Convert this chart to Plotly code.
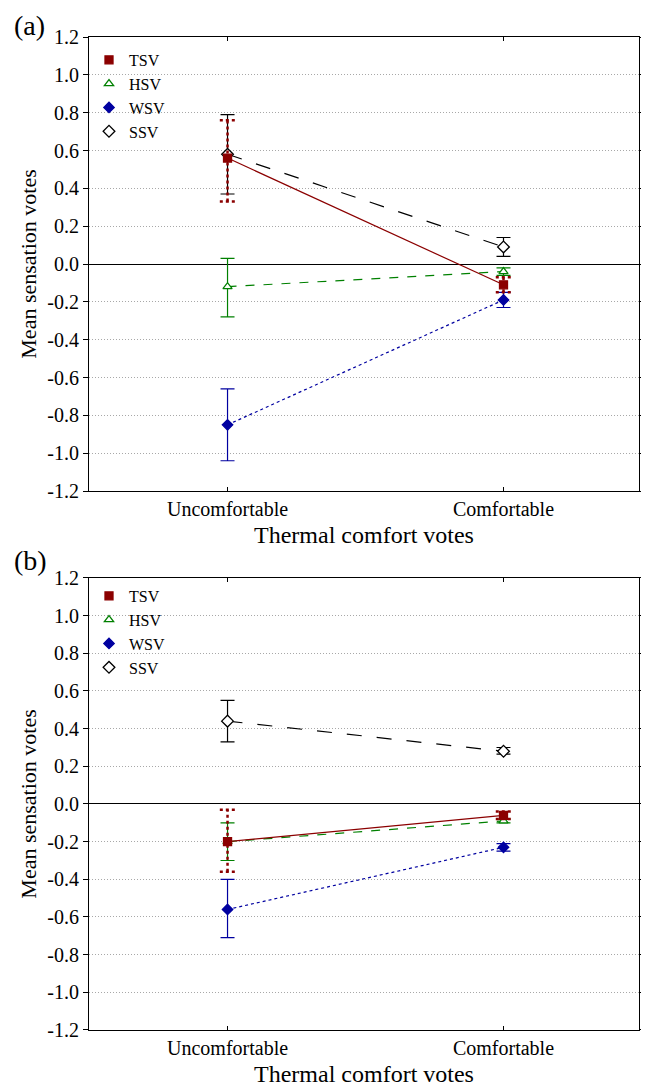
import plotly.graph_objects as go
from plotly.subplots import make_subplots

categories = ["Uncomfortable", "Comfortable"]
x_pos = [0, 1]
series = ["TSV", "HSV", "WSV", "SSV"]

# Panel (a): mean, lower, upper
a_mean = {"TSV": [0.56, -0.11], "HSV": [-0.12, -0.04], "WSV": [-0.85, -0.19], "SSV": [0.58, 0.09]}
a_lo = {"TSV": [0.33, -0.15], "HSV": [-0.28, -0.06], "WSV": [-1.04, -0.23], "SSV": [0.37, 0.04]}
a_hi = {"TSV": [0.76, -0.07], "HSV": [0.03, -0.02], "WSV": [-0.66, -0.15], "SSV": [0.79, 0.14]}

# Panel (b)
b_mean = {"TSV": [-0.20, -0.06], "HSV": [-0.20, -0.09], "WSV": [-0.56, -0.23], "SSV": [0.44, 0.28]}
b_lo = {"TSV": [-0.36, -0.08], "HSV": [-0.30, -0.10], "WSV": [-0.71, -0.25], "SSV": [0.33, 0.265]}
b_hi = {"TSV": [-0.03, -0.04], "HSV": [-0.10, -0.08], "WSV": [-0.40, -0.21], "SSV": [0.55, 0.30]}

y_ticks = [-1.2, -1.0, -0.8, -0.6, -0.4, -0.2, 0.0, 0.2, 0.4, 0.6, 0.8, 1.0, 1.2]

styles = {
    "TSV": dict(color="#8B0000", dash="solid", symbol="square", fill="#8B0000", msize=8),
    "HSV": dict(color="#008000", dash="dash", symbol="triangle-up", fill="white", msize=8),
    "WSV": dict(color="#0000A0", dash="dot", symbol="diamond", fill="#0000A0", msize=8),
    "SSV": dict(color="#000000", dash="longdash", symbol="diamond", fill="white", msize=9),
}

FONT = "Liberation Serif"

fig = make_subplots(rows=2, cols=1, vertical_spacing=0.0)

def add_panel(row, mean, lo, hi, legend_name):
    for s in ["SSV", "WSV", "HSV", "TSV"]:
        st = styles[s]
        m, l, h = mean[s], lo[s], hi[s]
        if s == "TSV":
            ex, ey = [], []
            d = 0.028
            for xi, li, hi_ in zip(x_pos, l, h):
                ex += [xi, xi, None, xi - d, xi + d, None, xi - d, xi + d, None]
                ey += [li, hi_, None, hi_, hi_, None, li, li, None]
            fig.add_trace(go.Scatter(x=ex, y=ey, mode="lines", showlegend=False,
                                     line=dict(color=st["color"], width=2.5, dash="dot"),
                                     hoverinfo="skip"), row=row, col=1)
            err = None
        else:
            err = dict(type="data", symmetric=False,
                       array=[hh - mm for hh, mm in zip(h, m)],
                       arrayminus=[mm - ll for mm, ll in zip(m, l)],
                       color=st["color"], thickness=1.2, width=7)
        fig.add_trace(go.Scatter(
            x=x_pos, y=m, mode="lines+markers", name=s, showlegend=False,
            line=dict(color=st["color"], width=1.2, dash=st["dash"]),
            marker=dict(symbol=st["symbol"], size=st["msize"], color=st["fill"],
                        line=dict(color=st["color"], width=1.3)),
            error_y=err,
        ), row=row, col=1)
    # legend-only entries (marker icons)
    for rank, s in enumerate(series):
        st = styles[s]
        fig.add_trace(go.Scatter(
            x=[None], y=[None], mode="markers", name=s, legend=legend_name, legendrank=rank + 1,
            marker=dict(symbol=st["symbol"], size=st["msize"], color=st["fill"],
                        line=dict(color=st["color"], width=1.3)),
        ), row=row, col=1)

add_panel(1, a_mean, a_lo, a_hi, "legend")
add_panel(2, b_mean, b_lo, b_hi, "legend2")

ax_common = dict(showline=True, linecolor="black", linewidth=1, mirror="ticks")

for ax in ["xaxis", "xaxis2"]:
    fig.layout[ax].update(**ax_common, range=[-0.502, 1.491], tickvals=x_pos, ticktext=categories,
                          tickfont=dict(family=FONT, size=20, color="black"),
                          ticks="inside", ticklen=4, tickcolor="black", showgrid=False, zeroline=False,
                          title=dict(text="Thermal comfort votes", font=dict(family=FONT, size=24, color="black"),
                                     standoff=7))
for ax in ["yaxis", "yaxis2"]:
    fig.layout[ax].update(**ax_common, range=[-1.2, 1.2], tickvals=y_ticks,
                          ticktext=[f"{v:.1f}" for v in y_ticks],
                          tickfont=dict(family=FONT, size=20, color="black"),
                          ticks="outside", ticklen=5, tickcolor="black",
                          showgrid=True, gridcolor="#a8a8a8", griddash="1px,2px", gridwidth=1,
                          zeroline=True, zerolinecolor="black", zerolinewidth=1.2,
                          title=dict(text="Mean sensation votes", font=dict(family=FONT, size=22, color="black"),
                                     standoff=4))

fig.layout.yaxis.domain = [0.5428, 1.0]
fig.layout.yaxis2.domain = [0.0, 0.4552]

legend_style = dict(font=dict(family=FONT, size=16, color="black"), bgcolor="rgba(0,0,0,0)",
                    tracegroupgap=0, xanchor="left", yanchor="top", itemwidth=30)
fig.update_layout(
    legend=dict(**legend_style, x=0.0, y=0.994),
    legend2=dict(**legend_style, x=0.0, y=0.4542),
)

fig.add_annotation(text="(a)", xref="paper", yref="paper", x=-0.14, y=1.0, xanchor="left", yanchor="middle",
                   showarrow=False, font=dict(family=FONT, size=28, color="black"), yshift=12)
fig.add_annotation(text="(b)", xref="paper", yref="paper", x=-0.14, y=0.4552, xanchor="left", yanchor="middle",
                   showarrow=False, font=dict(family=FONT, size=28, color="black"), yshift=17)

fig.update_layout(width=641, height=1080, margin=dict(l=81, r=4, t=29, b=58),
                  plot_bgcolor="white", paper_bgcolor="white",
                  font=dict(family=FONT, color="black"))

fig.write_html("out.html")
